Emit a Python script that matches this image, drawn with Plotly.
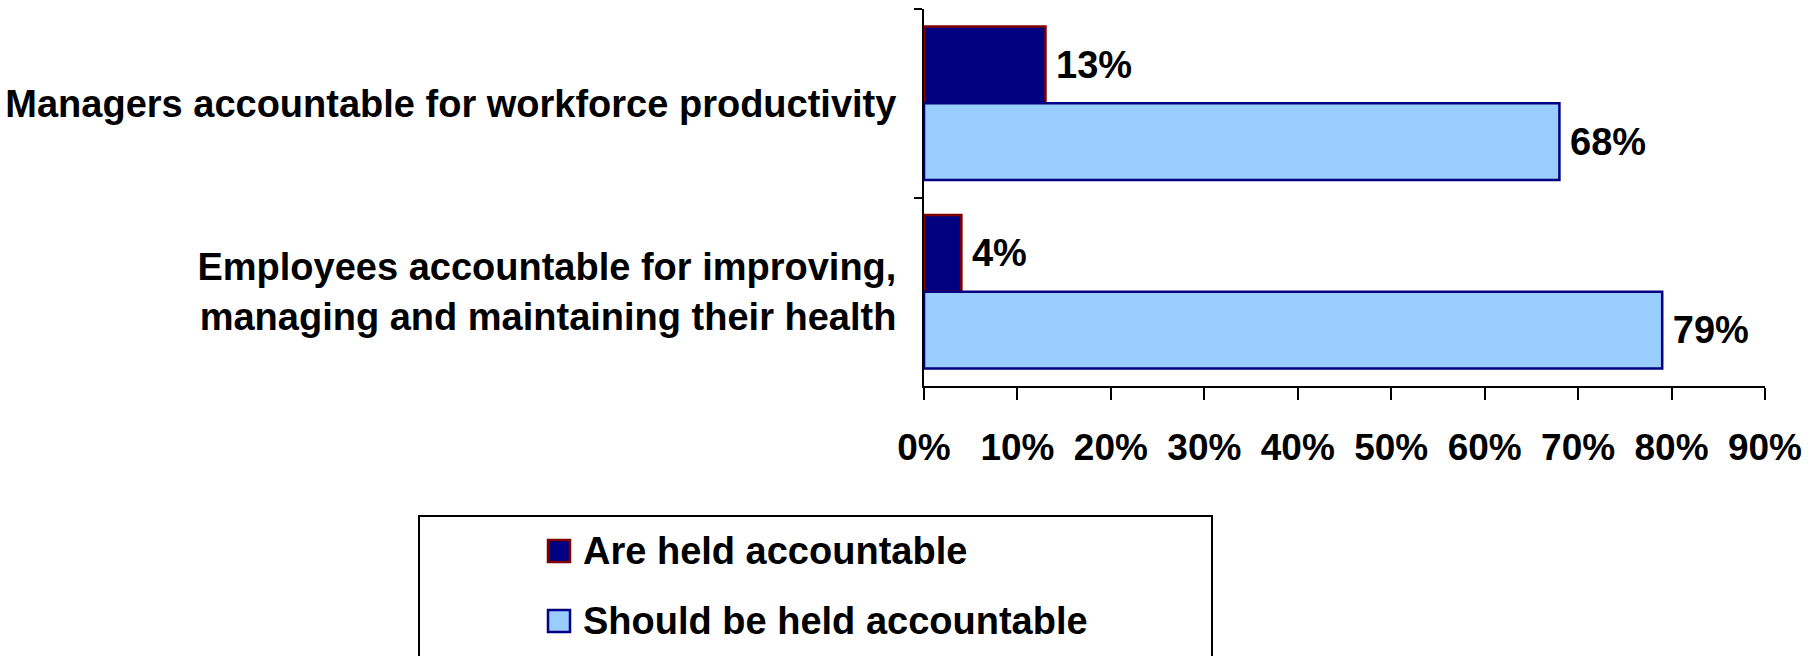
import plotly.graph_objects as go

# Survey results: who is / should be held accountable
categories = [
    "Managers accountable for workforce productivity",
    "Employees accountable for improving,<br>managing and maintaining their health",
]
series_names = ["Are held accountable", "Should be held accountable"]
held_values = [13, 4]
should_values = [68, 79]
x_ticks = [0, 10, 20, 30, 40, 50, 60, 70, 80, 90]
x_tick_labels = ["0%", "10%", "20%", "30%", "40%", "50%", "60%", "70%", "80%", "90%"]

fill_colors = ["#000080", "#99CCFF"]
edge_colors = ["#800000", "#000080"]

FONT = "Liberation Sans, Arial, sans-serif"
W, H = 1818, 656
M_L, M_R, M_T, M_B = 924, 53, 9, 270
PW, PH = W - M_L - M_R, H - M_T - M_B


def px_to_paper(px, py):
    return (px - M_L) / PW, (H - M_B - py) / PH


fig = go.Figure()
for name, vals, fc, ec in zip(series_names, [held_values, should_values], fill_colors, edge_colors):
    fig.add_trace(go.Bar(
        name=name,
        y=categories,
        x=vals,
        orientation="h",
        marker=dict(color=fc, line=dict(color=ec, width=2.5)),
        text=[f"\u2009{v}%" for v in vals],
        textposition="outside",
        textfont=dict(family=FONT, size=38, color="black", weight="bold"),
        cliponaxis=False,
        showlegend=False,
    ))

fig.update_layout(
    width=W, height=H,
    margin=dict(l=M_L, r=M_R, t=M_T, b=M_B, pad=0),
    paper_bgcolor="white", plot_bgcolor="white",
    barmode="group", bargap=0.186, bargroupgap=0,
    font=dict(family=FONT, size=38, color="black", weight="bold"),
    xaxis=dict(
        range=[0, 90], tickmode="array", tickvals=x_ticks, ticktext=x_tick_labels,
        automargin=False,
        showgrid=False, zeroline=False,
        showline=True, linecolor="black", linewidth=2,
        ticks="outside", ticklen=12, tickwidth=2, tickcolor="black",
        ticklabelstandoff=16,
        tickfont=dict(family=FONT, size=37, color="black", weight="bold"),
    ),
    yaxis=dict(
        autorange="reversed", automargin=False,
        showgrid=False, zeroline=False,
        showline=True, linecolor="black", linewidth=2,
        ticks="outside", ticklen=8, tickwidth=2, tickcolor="black",
        tickson="boundaries",
        ticklabelstandoff=18,
        tickfont=dict(family=FONT, size=38, color="black", weight="bold"),
    ),
)

# Legend box drawn as a framed panel below the axis
bx0, by0 = px_to_paper(419, 516)
bx1, by1 = px_to_paper(1212, 700)
fig.add_shape(type="rect", xref="paper", yref="paper",
              x0=bx0, y0=by1, x1=bx1, y1=by0,
              line=dict(color="black", width=2), fillcolor="white", layer="above")

for i, (name, fc, ec) in enumerate(zip(series_names, fill_colors, edge_colors)):
    cy = 551 + i * 70
    sx0, sy0 = px_to_paper(548, cy - 11)
    sx1, sy1 = px_to_paper(570, cy + 11)
    fig.add_shape(type="rect", xref="paper", yref="paper",
                  x0=sx0, y0=sy1, x1=sx1, y1=sy0,
                  line=dict(color=ec, width=2.5), fillcolor=fc, layer="above")
    tx, ty = px_to_paper(581, cy)
    fig.add_annotation(xref="paper", yref="paper", x=tx, y=ty,
                       xanchor="left", yanchor="middle", showarrow=False,
                       text=name,
                       font=dict(family=FONT, size=38, color="black", weight="bold"))

fig.write_html("out.html")
